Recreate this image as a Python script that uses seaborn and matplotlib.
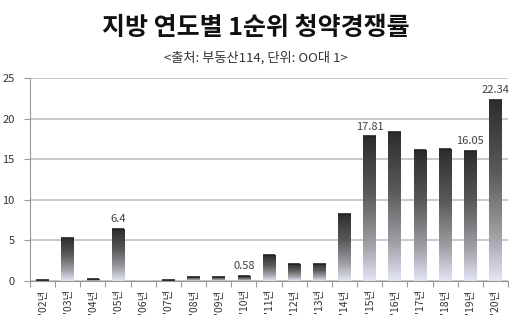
import numpy as np
import pandas as pd
import matplotlib
matplotlib.use("Agg")
import matplotlib.pyplot as plt
import seaborn as sns
from matplotlib.colors import LinearSegmentedColormap

years = ["'02년", "'03년", "'04년", "'05년", "'06년", "'07년", "'08년", "'09년", "'10년",
         "'11년", "'12년", "'13년", "'14년", "'15년", "'16년", "'17년", "'18년", "'19년", "'20년"]
values = [0.1, 5.3, 0.2, 6.4, 0.0, 0.1, 0.5, 0.5, 0.58,
          3.2, 2.1, 2.1, 8.3, 17.81, 18.4, 16.1, 16.3, 16.05, 22.34]
labeled = {"'05년": "6.4", "'10년": "0.58", "'15년": "17.81", "'19년": "16.05", "'20년": "22.34"}
yticks = [0, 5, 10, 15, 20, 25]

title = "지방 연도별 1순위 청약경쟁률"
subtitle = "<출처: 부동산114, 단위: OO대 1>"

sns.set_theme(style="white")
plt.rcParams['font.family'] = ['Noto Sans CJK KR', 'DejaVu Sans']

fig = plt.figure(figsize=(5.12, 3.31), dpi=100)
ax = fig.add_axes([30/512, 50/331, 478/512, 203/331])

df = pd.DataFrame({"year": years, "value": values})
sns.barplot(data=df, x="year", y="value", ax=ax, color="#444444", width=0.5, saturation=1)

cmap = LinearSegmentedColormap.from_list(
    "g", [(0.0, "#e4e6f6"), (0.25, "#a0a0a6"), (0.6, "#5a5a5c"), (1.0, "#2c2c2c")])
grad = np.linspace(0, 1, 256).reshape(-1, 1)
for p in ax.patches:
    x0, y0 = p.get_x(), p.get_y()
    w, h = p.get_width(), p.get_height()
    if h <= 0:
        continue
    p.set_facecolor("none")
    p.set_edgecolor("none")
    im = ax.imshow(grad, cmap=cmap, aspect="auto", origin="lower",
                   extent=[x0, x0 + w, y0, y0 + h], zorder=2)
    rect = plt.Rectangle((x0, y0), w, h, transform=ax.transData)
    im.set_clip_path(rect)
    ax.plot([x0, x0 + w], [y0 + h, y0 + h], color="#222222", lw=1.2, zorder=3,
            solid_capstyle="butt")

ax.set_xlim(-0.5, len(years) - 0.5)
ax.set_ylim(0, 25)
ax.set_yticks(yticks)
ax.set_yticklabels([str(t) for t in yticks], fontsize=8, color="#333333")
ax.set_xticks(range(len(years)))
ax.set_xticklabels(years, rotation=90, fontsize=7.5, color="#333333")
ax.tick_params(axis="x", length=0, pad=6)
ax.set_xticks(np.arange(-0.5, len(years), 1), minor=True)
ax.tick_params(axis="x", which="minor", length=4, color="#999999", width=0.8, bottom=True)
ax.tick_params(axis="y", length=4, color="#999999", width=0.8, left=True, pad=7)
ax.set_xlabel("")
ax.set_ylabel("")
ax.grid(axis="y", color="#c0c0c0", lw=1.2, zorder=0)
ax.set_axisbelow(True)
for s in ["top", "right"]:
    ax.spines[s].set_visible(False)
for s in ["left", "bottom"]:
    ax.spines[s].set_color("#999999")
    ax.spines[s].set_linewidth(0.8)

for i, (y, v) in enumerate(zip(years, values)):
    if y in labeled:
        ax.text(i, v + 0.6, labeled[y], ha="center", va="bottom", fontsize=8, color="#404040")

fig.text(0.5, 1 - 28/331, title, ha="center", va="center", fontsize=18, fontweight="bold", color="#111111")
fig.text(0.5, 1 - 58/331, subtitle, ha="center", va="center", fontsize=9.5, color="#333333")

fig.savefig("out.png", dpi=100)
